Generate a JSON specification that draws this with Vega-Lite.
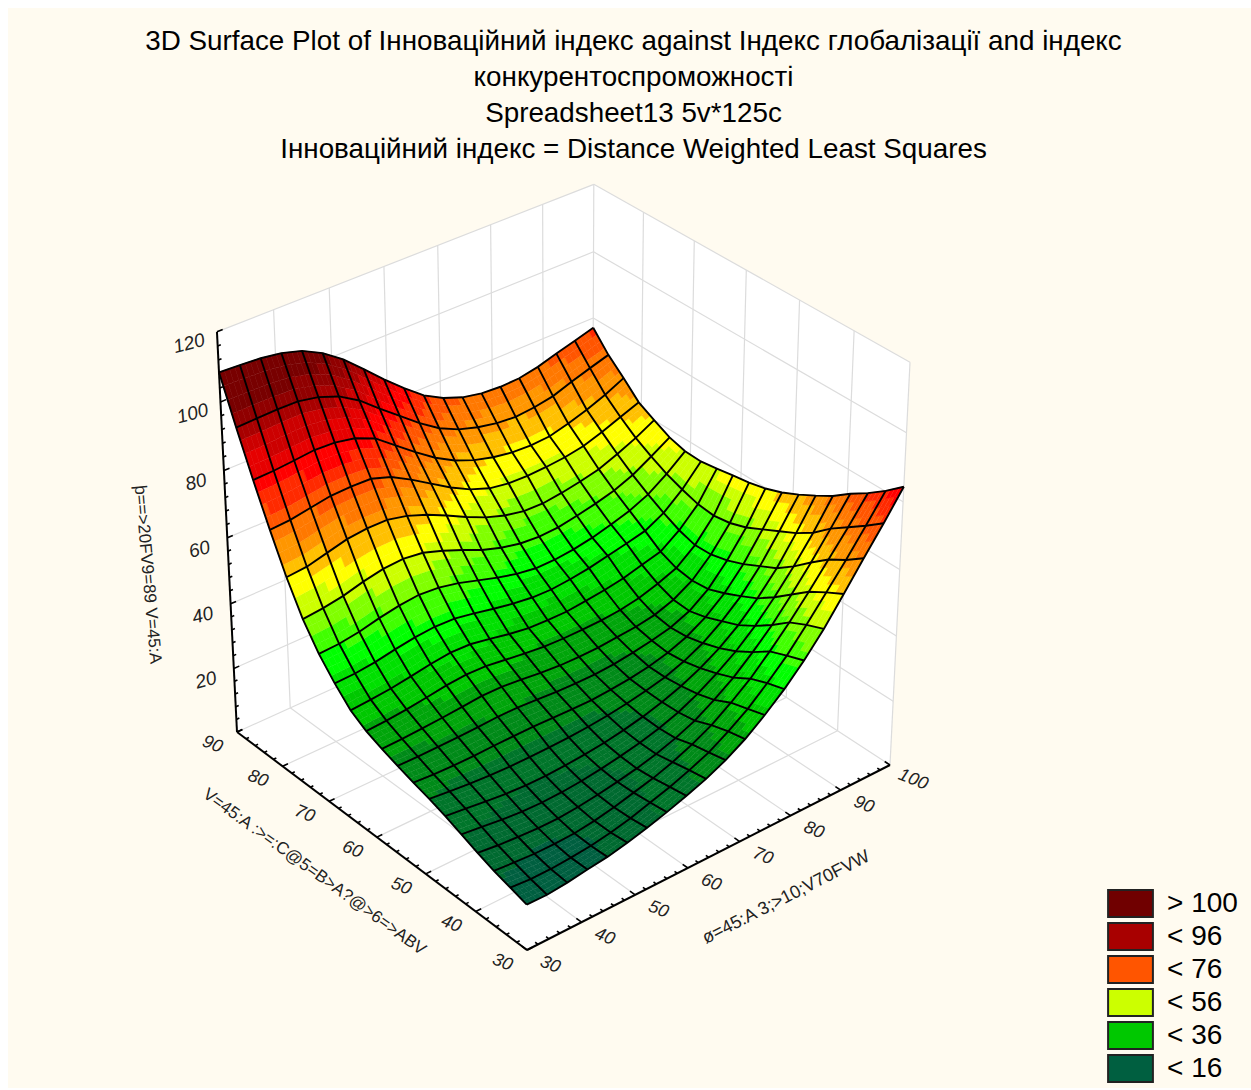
{"$schema":"https://vega.github.io/schema/vega-lite/v6.json","width":1243,"height":1080,"autosize":"none","padding":{"left":8,"top":8,"right":0,"bottom":2},"background":"white","view":{"fill":"#FFFBF0","stroke":null},
"title":{"text":["3D Surface Plot of Інноваційний індекс against Індекс глобалізації and індекс","конкурентоспроможності","Spreadsheet13 5v*125c","Інноваційний індекс = Distance Weighted Least Squares"],"font":"Liberation Sans","fontSize":27.8,"fontWeight":"normal","color":"black","lineHeight":36,"anchor":"middle","frame":"group","baseline":"top","offset":-156,"dx":4},
"datasets":{
"nodes":[
{"i":0,"j":0,"z":13.8},{"i":1,"j":0,"z":13.7},{"i":2,"j":0,"z":14.3},{"i":3,"j":0,"z":15.2},{"i":4,"j":0,"z":16},{"i":5,"j":0,"z":17.3},{"i":6,"j":0,"z":18.8},{"i":7,"j":0,"z":20.6},{"i":8,"j":0,"z":22.6},{"i":9,"j":0,"z":24.8},{"i":10,"j":0,"z":27.6},{"i":11,"j":0,"z":31.1},{"i":12,"j":0,"z":35.5},{"i":13,"j":0,"z":40.5},{"i":14,"j":0,"z":46.3},{"i":15,"j":0,"z":53},{"i":16,"j":0,"z":60.7},{"i":17,"j":0,"z":68.6},{"i":18,"j":0,"z":76.3},{"i":19,"j":0,"z":84.4},
{"i":0,"j":1,"z":15.3},{"i":1,"j":1,"z":14.8},{"i":2,"j":1,"z":14.8},{"i":3,"j":1,"z":15.2},{"i":4,"j":1,"z":15.8},{"i":5,"j":1,"z":16.8},{"i":6,"j":1,"z":18.2},{"i":7,"j":1,"z":20},{"i":8,"j":1,"z":21.8},{"i":9,"j":1,"z":24},{"i":10,"j":1,"z":26.5},{"i":11,"j":1,"z":30},{"i":12,"j":1,"z":34},{"i":13,"j":1,"z":39},{"i":14,"j":1,"z":44.5},{"i":15,"j":1,"z":51},{"i":16,"j":1,"z":58},{"i":17,"j":1,"z":65},{"i":18,"j":1,"z":72.5},{"i":19,"j":1,"z":80.2},
{"i":0,"j":2,"z":16.7},{"i":1,"j":2,"z":16.2},{"i":2,"j":2,"z":15.8},{"i":3,"j":2,"z":15.8},{"i":4,"j":2,"z":16},{"i":5,"j":2,"z":16.8},{"i":6,"j":2,"z":18},{"i":7,"j":2,"z":19.5},{"i":8,"j":2,"z":21},{"i":9,"j":2,"z":23},{"i":10,"j":2,"z":25.5},{"i":11,"j":2,"z":28.5},{"i":12,"j":2,"z":32.5},{"i":13,"j":2,"z":37},{"i":14,"j":2,"z":42.5},{"i":15,"j":2,"z":48.5},{"i":16,"j":2,"z":55},{"i":17,"j":2,"z":62},{"i":18,"j":2,"z":69},{"i":19,"j":2,"z":76.5},
{"i":0,"j":3,"z":18.5},{"i":1,"j":3,"z":17.8},{"i":2,"j":3,"z":17.3},{"i":3,"j":3,"z":17},{"i":4,"j":3,"z":17},{"i":5,"j":3,"z":17.5},{"i":6,"j":3,"z":18.3},{"i":7,"j":3,"z":19.3},{"i":8,"j":3,"z":20.5},{"i":9,"j":3,"z":22},{"i":10,"j":3,"z":24},{"i":11,"j":3,"z":26.5},{"i":12,"j":3,"z":30},{"i":13,"j":3,"z":34},{"i":14,"j":3,"z":39},{"i":15,"j":3,"z":44.5},{"i":16,"j":3,"z":51},{"i":17,"j":3,"z":58},{"i":18,"j":3,"z":65.5},{"i":19,"j":3,"z":73.3},
{"i":0,"j":4,"z":20.5},{"i":1,"j":4,"z":19.8},{"i":2,"j":4,"z":19},{"i":3,"j":4,"z":18.5},{"i":4,"j":4,"z":18.3},{"i":5,"j":4,"z":18.5},{"i":6,"j":4,"z":19},{"i":7,"j":4,"z":19.8},{"i":8,"j":4,"z":20.8},{"i":9,"j":4,"z":22},{"i":10,"j":4,"z":23.6},{"i":11,"j":4,"z":25.7},{"i":12,"j":4,"z":28.5},{"i":13,"j":4,"z":32},{"i":14,"j":4,"z":36},{"i":15,"j":4,"z":41},{"i":16,"j":4,"z":47},{"i":17,"j":4,"z":53.7},{"i":18,"j":4,"z":61.2},{"i":19,"j":4,"z":69.6},
{"i":0,"j":5,"z":22.5},{"i":1,"j":5,"z":21.8},{"i":2,"j":5,"z":21},{"i":3,"j":5,"z":20.4},{"i":4,"j":5,"z":20},{"i":5,"j":5,"z":20},{"i":6,"j":5,"z":20.3},{"i":7,"j":5,"z":20.8},{"i":8,"j":5,"z":21.5},{"i":9,"j":5,"z":22.5},{"i":10,"j":5,"z":23.8},{"i":11,"j":5,"z":25.5},{"i":12,"j":5,"z":27.6},{"i":13,"j":5,"z":30.3},{"i":14,"j":5,"z":33.7},{"i":15,"j":5,"z":38},{"i":16,"j":5,"z":43.5},{"i":17,"j":5,"z":50},{"i":18,"j":5,"z":58},{"i":19,"j":5,"z":66.7},
{"i":0,"j":6,"z":24.2},{"i":1,"j":6,"z":23.5},{"i":2,"j":6,"z":22.9},{"i":3,"j":6,"z":22.5},{"i":4,"j":6,"z":22.3},{"i":5,"j":6,"z":22.3},{"i":6,"j":6,"z":22.4},{"i":7,"j":6,"z":22.6},{"i":8,"j":6,"z":23},{"i":9,"j":6,"z":23.6},{"i":10,"j":6,"z":24.5},{"i":11,"j":6,"z":25.6},{"i":12,"j":6,"z":27},{"i":13,"j":6,"z":29.1},{"i":14,"j":6,"z":32},{"i":15,"j":6,"z":36},{"i":16,"j":6,"z":41},{"i":17,"j":6,"z":47.5},{"i":18,"j":6,"z":55.5},{"i":19,"j":6,"z":64},
{"i":0,"j":7,"z":25.6},{"i":1,"j":7,"z":25.2},{"i":2,"j":7,"z":25},{"i":3,"j":7,"z":25},{"i":4,"j":7,"z":25.2},{"i":5,"j":7,"z":25.3},{"i":6,"j":7,"z":25.3},{"i":7,"j":7,"z":25.2},{"i":8,"j":7,"z":25},{"i":9,"j":7,"z":25},{"i":10,"j":7,"z":25.4},{"i":11,"j":7,"z":26},{"i":12,"j":7,"z":27},{"i":13,"j":7,"z":28.5},{"i":14,"j":7,"z":30.7},{"i":15,"j":7,"z":34},{"i":16,"j":7,"z":38.7},{"i":17,"j":7,"z":45},{"i":18,"j":7,"z":53},{"i":19,"j":7,"z":61.6},
{"i":0,"j":8,"z":27.2},{"i":1,"j":8,"z":27.1},{"i":2,"j":8,"z":27.2},{"i":3,"j":8,"z":27.3},{"i":4,"j":8,"z":27.5},{"i":5,"j":8,"z":27.8},{"i":6,"j":8,"z":27.8},{"i":7,"j":8,"z":27.4},{"i":8,"j":8,"z":27},{"i":9,"j":8,"z":26.8},{"i":10,"j":8,"z":26.8},{"i":11,"j":8,"z":27.2},{"i":12,"j":8,"z":28},{"i":13,"j":8,"z":29},{"i":14,"j":8,"z":30.3},{"i":15,"j":8,"z":32.7},{"i":16,"j":8,"z":36.8},{"i":17,"j":8,"z":43},{"i":18,"j":8,"z":50.5},{"i":19,"j":8,"z":59.8},
{"i":0,"j":9,"z":28.9},{"i":1,"j":9,"z":29.1},{"i":2,"j":9,"z":29.4},{"i":3,"j":9,"z":29.8},{"i":4,"j":9,"z":30.3},{"i":5,"j":9,"z":30.8},{"i":6,"j":9,"z":30.8},{"i":7,"j":9,"z":30.2},{"i":8,"j":9,"z":29.5},{"i":9,"j":9,"z":29},{"i":10,"j":9,"z":28.9},{"i":11,"j":9,"z":29},{"i":12,"j":9,"z":29.5},{"i":13,"j":9,"z":30},{"i":14,"j":9,"z":31},{"i":15,"j":9,"z":33},{"i":16,"j":9,"z":36.3},{"i":17,"j":9,"z":41.7},{"i":18,"j":9,"z":48.8},{"i":19,"j":9,"z":58.6},
{"i":0,"j":10,"z":30.9},{"i":1,"j":10,"z":31.2},{"i":2,"j":10,"z":31.8},{"i":3,"j":10,"z":32.6},{"i":4,"j":10,"z":33.5},{"i":5,"j":10,"z":34},{"i":6,"j":10,"z":33.8},{"i":7,"j":10,"z":33},{"i":8,"j":10,"z":32.2},{"i":9,"j":10,"z":31.5},{"i":10,"j":10,"z":31.3},{"i":11,"j":10,"z":31.3},{"i":12,"j":10,"z":31.5},{"i":13,"j":10,"z":32},{"i":14,"j":10,"z":33},{"i":15,"j":10,"z":34.8},{"i":16,"j":10,"z":37},{"i":17,"j":10,"z":41.5},{"i":18,"j":10,"z":48},{"i":19,"j":10,"z":57.8},
{"i":0,"j":11,"z":33.8},{"i":1,"j":11,"z":34.2},{"i":2,"j":11,"z":34.8},{"i":3,"j":11,"z":35.7},{"i":4,"j":11,"z":36.7},{"i":5,"j":11,"z":37.4},{"i":6,"j":11,"z":37.2},{"i":7,"j":11,"z":36.1},{"i":8,"j":11,"z":34.9},{"i":9,"j":11,"z":34},{"i":10,"j":11,"z":33.7},{"i":11,"j":11,"z":33.7},{"i":12,"j":11,"z":34.3},{"i":13,"j":11,"z":35},{"i":14,"j":11,"z":36},{"i":15,"j":11,"z":37.5},{"i":16,"j":11,"z":39},{"i":17,"j":11,"z":43},{"i":18,"j":11,"z":48.5},{"i":19,"j":11,"z":56.9},
{"i":0,"j":12,"z":38.6},{"i":1,"j":12,"z":38.8},{"i":2,"j":12,"z":39.5},{"i":3,"j":12,"z":40.6},{"i":4,"j":12,"z":41.5},{"i":5,"j":12,"z":42},{"i":6,"j":12,"z":41.8},{"i":7,"j":12,"z":40.7},{"i":8,"j":12,"z":39.4},{"i":9,"j":12,"z":38.3},{"i":10,"j":12,"z":37.5},{"i":11,"j":12,"z":37.3},{"i":12,"j":12,"z":37.8},{"i":13,"j":12,"z":38.6},{"i":14,"j":12,"z":39.8},{"i":15,"j":12,"z":41},{"i":16,"j":12,"z":42.3},{"i":17,"j":12,"z":45.3},{"i":18,"j":12,"z":50},{"i":19,"j":12,"z":56.1},
{"i":0,"j":13,"z":44.2},{"i":1,"j":13,"z":44.5},{"i":2,"j":13,"z":45.4},{"i":3,"j":13,"z":46.8},{"i":4,"j":13,"z":47.9},{"i":5,"j":13,"z":48.5},{"i":6,"j":13,"z":48},{"i":7,"j":13,"z":46.7},{"i":8,"j":13,"z":44.9},{"i":9,"j":13,"z":43.1},{"i":10,"j":13,"z":41.6},{"i":11,"j":13,"z":40.7},{"i":12,"j":13,"z":40.7},{"i":13,"j":13,"z":41.3},{"i":14,"j":13,"z":42.3},{"i":15,"j":13,"z":43.8},{"i":16,"j":13,"z":45.5},{"i":17,"j":13,"z":48},{"i":18,"j":13,"z":51.8},{"i":19,"j":13,"z":56.3},
{"i":0,"j":14,"z":51.4},{"i":1,"j":14,"z":52},{"i":2,"j":14,"z":53},{"i":3,"j":14,"z":54.6},{"i":4,"j":14,"z":55.8},{"i":5,"j":14,"z":56.2},{"i":6,"j":14,"z":55.4},{"i":7,"j":14,"z":53.4},{"i":8,"j":14,"z":51},{"i":9,"j":14,"z":48.4},{"i":10,"j":14,"z":46.5},{"i":11,"j":14,"z":45.2},{"i":12,"j":14,"z":44.7},{"i":13,"j":14,"z":45},{"i":14,"j":14,"z":46},{"i":15,"j":14,"z":47.2},{"i":16,"j":14,"z":48.7},{"i":17,"j":14,"z":51},{"i":18,"j":14,"z":54.2},{"i":19,"j":14,"z":57.6},
{"i":0,"j":15,"z":60.7},{"i":1,"j":15,"z":61.2},{"i":2,"j":15,"z":62.7},{"i":3,"j":15,"z":64.2},{"i":4,"j":15,"z":64.8},{"i":5,"j":15,"z":64.8},{"i":6,"j":15,"z":63.4},{"i":7,"j":15,"z":61.2},{"i":8,"j":15,"z":58.4},{"i":9,"j":15,"z":55.4},{"i":10,"j":15,"z":52.7},{"i":11,"j":15,"z":50.7},{"i":12,"j":15,"z":49.5},{"i":13,"j":15,"z":49.3},{"i":14,"j":15,"z":50},{"i":15,"j":15,"z":51},{"i":16,"j":15,"z":52.3},{"i":17,"j":15,"z":54.5},{"i":18,"j":15,"z":57},{"i":19,"j":15,"z":60},
{"i":0,"j":16,"z":71.6},{"i":1,"j":16,"z":72},{"i":2,"j":16,"z":73},{"i":3,"j":16,"z":74},{"i":4,"j":16,"z":74.2},{"i":5,"j":16,"z":74},{"i":6,"j":16,"z":72},{"i":7,"j":16,"z":68.7},{"i":8,"j":16,"z":65},{"i":9,"j":16,"z":61.3},{"i":10,"j":16,"z":58.2},{"i":11,"j":16,"z":56},{"i":12,"j":16,"z":55},{"i":13,"j":16,"z":54.8},{"i":14,"j":16,"z":55},{"i":15,"j":16,"z":55.5},{"i":16,"j":16,"z":56.5},{"i":17,"j":16,"z":58.3},{"i":18,"j":16,"z":60.5},{"i":19,"j":16,"z":62.6},
{"i":0,"j":17,"z":83.2},{"i":1,"j":17,"z":83.4},{"i":2,"j":17,"z":83.9},{"i":3,"j":17,"z":84.5},{"i":4,"j":17,"z":84.2},{"i":5,"j":17,"z":83},{"i":6,"j":17,"z":80.5},{"i":7,"j":17,"z":76},{"i":8,"j":17,"z":71.5},{"i":9,"j":17,"z":67.3},{"i":10,"j":17,"z":64},{"i":11,"j":17,"z":61.6},{"i":12,"j":17,"z":60},{"i":13,"j":17,"z":59},{"i":14,"j":17,"z":58.7},{"i":15,"j":17,"z":59},{"i":16,"j":17,"z":60.5},{"i":17,"j":17,"z":62.3},{"i":18,"j":17,"z":64.5},{"i":19,"j":17,"z":67.2},
{"i":0,"j":18,"z":95.5},{"i":1,"j":18,"z":95.7},{"i":2,"j":18,"z":95.9},{"i":3,"j":18,"z":95.8},{"i":4,"j":18,"z":94.6},{"i":5,"j":18,"z":92.4},{"i":6,"j":18,"z":88.8},{"i":7,"j":18,"z":84},{"i":8,"j":18,"z":79.4},{"i":9,"j":18,"z":74.8},{"i":10,"j":18,"z":70.8},{"i":11,"j":18,"z":68},{"i":12,"j":18,"z":66.2},{"i":13,"j":18,"z":65},{"i":14,"j":18,"z":64.5},{"i":15,"j":18,"z":65},{"i":16,"j":18,"z":66},{"i":17,"j":18,"z":68},{"i":18,"j":18,"z":69.8},{"i":19,"j":18,"z":71.5},
{"i":0,"j":19,"z":108.5},{"i":1,"j":19,"z":108.2},{"i":2,"j":19,"z":107.8},{"i":3,"j":19,"z":106.9},{"i":4,"j":19,"z":105.2},{"i":5,"j":19,"z":102.2},{"i":6,"j":19,"z":98},{"i":7,"j":19,"z":92.8},{"i":8,"j":19,"z":87.4},{"i":9,"j":19,"z":82.4},{"i":10,"j":19,"z":77.8},{"i":11,"j":19,"z":74.6},{"i":12,"j":19,"z":72.4},{"i":13,"j":19,"z":71.2},{"i":14,"j":19,"z":70.8},{"i":15,"j":19,"z":71},{"i":16,"j":19,"z":72.1},{"i":17,"j":19,"z":73.8},{"i":18,"j":19,"z":75.4},{"i":19,"j":19,"z":77}
],
"ticks":[
{"ax":"z","t":0},{"ax":"z","t":4},{"ax":"z","t":8},{"ax":"z","t":12},{"ax":"z","t":16},{"ax":"z","t":20},{"ax":"z","t":24},{"ax":"z","t":28},{"ax":"z","t":32},{"ax":"z","t":36},{"ax":"z","t":40},{"ax":"z","t":44},{"ax":"z","t":48},{"ax":"z","t":52},{"ax":"z","t":56},{"ax":"z","t":60},{"ax":"z","t":64},{"ax":"z","t":68},{"ax":"z","t":72},{"ax":"z","t":76},{"ax":"z","t":80},{"ax":"z","t":84},{"ax":"z","t":88},{"ax":"z","t":92},{"ax":"z","t":96},{"ax":"z","t":100},{"ax":"z","t":104},{"ax":"z","t":108},{"ax":"z","t":112},{"ax":"z","t":116},{"ax":"z","t":120},
{"ax":"u","t":30},{"ax":"u","t":32},{"ax":"u","t":34},{"ax":"u","t":36},{"ax":"u","t":38},{"ax":"u","t":40},{"ax":"u","t":42},{"ax":"u","t":44},{"ax":"u","t":46},{"ax":"u","t":48},{"ax":"u","t":50},{"ax":"u","t":52},{"ax":"u","t":54},{"ax":"u","t":56},{"ax":"u","t":58},{"ax":"u","t":60},{"ax":"u","t":62},{"ax":"u","t":64},{"ax":"u","t":66},{"ax":"u","t":68},{"ax":"u","t":70},{"ax":"u","t":72},{"ax":"u","t":74},{"ax":"u","t":76},{"ax":"u","t":78},{"ax":"u","t":80},{"ax":"u","t":82},{"ax":"u","t":84},{"ax":"u","t":86},{"ax":"u","t":88},{"ax":"u","t":90},{"ax":"u","t":92},{"ax":"u","t":94},{"ax":"u","t":96},{"ax":"u","t":98},{"ax":"u","t":100},
{"ax":"v","t":30},{"ax":"v","t":32},{"ax":"v","t":34},{"ax":"v","t":36},{"ax":"v","t":38},{"ax":"v","t":40},{"ax":"v","t":42},{"ax":"v","t":44},{"ax":"v","t":46},{"ax":"v","t":48},{"ax":"v","t":50},{"ax":"v","t":52},{"ax":"v","t":54},{"ax":"v","t":56},{"ax":"v","t":58},{"ax":"v","t":60},{"ax":"v","t":62},{"ax":"v","t":64},{"ax":"v","t":66},{"ax":"v","t":68},{"ax":"v","t":70},{"ax":"v","t":72},{"ax":"v","t":74},{"ax":"v","t":76},{"ax":"v","t":78},{"ax":"v","t":80},{"ax":"v","t":82},{"ax":"v","t":84},{"ax":"v","t":86},{"ax":"v","t":88},{"ax":"v","t":90}
]},
"encoding":{"x":{"field":"sx","type":"quantitative","scale":{"domain":[8,1251],"nice":false,"zero":false},"axis":null},"y":{"field":"sy","type":"quantitative","scale":{"domain":[1088,8],"nice":false,"zero":false},"axis":null}},
"layer":[
{"data":{"values":[
{"w":"floor","k":0,"u":30,"v":30,"z":0},{"w":"floor","k":1,"u":100,"v":30,"z":0},{"w":"floor","k":2,"u":100,"v":90,"z":0},{"w":"floor","k":3,"u":30,"v":90,"z":0},
{"w":"left","k":0,"u":30,"v":90,"z":0},{"w":"left","k":1,"u":100,"v":90,"z":0},{"w":"left","k":2,"u":100,"v":90,"z":120},{"w":"left","k":3,"u":30,"v":90,"z":120},
{"w":"right","k":0,"u":100,"v":30,"z":0},{"w":"right","k":1,"u":100,"v":90,"z":0},{"w":"right","k":2,"u":100,"v":90,"z":120},{"w":"right","k":3,"u":100,"v":30,"z":120}]},
"transform":[{"calculate":"(datum.u-30)/70","as":"a"},{"calculate":"(datum.v-30)/60","as":"b"},{"calculate":"datum.z/120","as":"c"},{"calculate":"(527+417.82*datum.a-272.6*datum.b-34.9*datum.c)/(1+0.0616*datum.a+0.0734*datum.b-0.0617*datum.c)","as":"sx"},{"calculate":"(950-137.88*datum.a-164.27*datum.b-450*datum.c)/(1+0.0616*datum.a+0.0734*datum.b-0.0617*datum.c)","as":"sy"}],
"mark":{"type":"line","filled":true,"fill":"white","stroke":null},
"encoding":{"detail":{"field":"w","type":"nominal"},"order":{"field":"k","type":"quantitative"}}},
{"data":{"values":[
{"u1":40,"v1":30,"z1":0,"u2":40,"v2":90,"z2":0},{"u1":50,"v1":30,"z1":0,"u2":50,"v2":90,"z2":0},{"u1":60,"v1":30,"z1":0,"u2":60,"v2":90,"z2":0},{"u1":70,"v1":30,"z1":0,"u2":70,"v2":90,"z2":0},{"u1":80,"v1":30,"z1":0,"u2":80,"v2":90,"z2":0},{"u1":90,"v1":30,"z1":0,"u2":90,"v2":90,"z2":0},
{"u1":30,"v1":40,"z1":0,"u2":100,"v2":40,"z2":0},{"u1":30,"v1":50,"z1":0,"u2":100,"v2":50,"z2":0},{"u1":30,"v1":60,"z1":0,"u2":100,"v2":60,"z2":0},{"u1":30,"v1":70,"z1":0,"u2":100,"v2":70,"z2":0},{"u1":30,"v1":80,"z1":0,"u2":100,"v2":80,"z2":0},
{"u1":40,"v1":90,"z1":0,"u2":40,"v2":90,"z2":120},{"u1":50,"v1":90,"z1":0,"u2":50,"v2":90,"z2":120},{"u1":60,"v1":90,"z1":0,"u2":60,"v2":90,"z2":120},{"u1":70,"v1":90,"z1":0,"u2":70,"v2":90,"z2":120},{"u1":80,"v1":90,"z1":0,"u2":80,"v2":90,"z2":120},{"u1":90,"v1":90,"z1":0,"u2":90,"v2":90,"z2":120},
{"u1":100,"v1":40,"z1":0,"u2":100,"v2":40,"z2":120},{"u1":100,"v1":50,"z1":0,"u2":100,"v2":50,"z2":120},{"u1":100,"v1":60,"z1":0,"u2":100,"v2":60,"z2":120},{"u1":100,"v1":70,"z1":0,"u2":100,"v2":70,"z2":120},{"u1":100,"v1":80,"z1":0,"u2":100,"v2":80,"z2":120},
{"u1":30,"v1":90,"z1":20,"u2":100,"v2":90,"z2":20},{"u1":30,"v1":90,"z1":40,"u2":100,"v2":90,"z2":40},{"u1":30,"v1":90,"z1":60,"u2":100,"v2":90,"z2":60},{"u1":30,"v1":90,"z1":80,"u2":100,"v2":90,"z2":80},{"u1":30,"v1":90,"z1":100,"u2":100,"v2":90,"z2":100},{"u1":30,"v1":90,"z1":120,"u2":100,"v2":90,"z2":120},
{"u1":100,"v1":30,"z1":20,"u2":100,"v2":90,"z2":20},{"u1":100,"v1":30,"z1":40,"u2":100,"v2":90,"z2":40},{"u1":100,"v1":30,"z1":60,"u2":100,"v2":90,"z2":60},{"u1":100,"v1":30,"z1":80,"u2":100,"v2":90,"z2":80},{"u1":100,"v1":30,"z1":100,"u2":100,"v2":90,"z2":100},{"u1":100,"v1":30,"z1":120,"u2":100,"v2":90,"z2":120},
{"u1":100,"v1":90,"z1":0,"u2":100,"v2":90,"z2":120},{"u1":100,"v1":30,"z1":0,"u2":100,"v2":30,"z2":120},{"u1":100,"v1":30,"z1":0,"u2":100,"v2":90,"z2":0},{"u1":30,"v1":90,"z1":0,"u2":100,"v2":90,"z2":0}]},
"transform":[{"calculate":"(datum.u1-30)/70","as":"a1"},{"calculate":"(datum.v1-30)/60","as":"b1"},{"calculate":"datum.z1/120","as":"c1"},{"calculate":"(datum.u2-30)/70","as":"a2"},{"calculate":"(datum.v2-30)/60","as":"b2"},{"calculate":"datum.z2/120","as":"c2"},
{"calculate":"(527+417.82*datum.a1-272.6*datum.b1-34.9*datum.c1)/(1+0.0616*datum.a1+0.0734*datum.b1-0.0617*datum.c1)","as":"sx"},{"calculate":"(950-137.88*datum.a1-164.27*datum.b1-450*datum.c1)/(1+0.0616*datum.a1+0.0734*datum.b1-0.0617*datum.c1)","as":"sy"},
{"calculate":"(527+417.82*datum.a2-272.6*datum.b2-34.9*datum.c2)/(1+0.0616*datum.a2+0.0734*datum.b2-0.0617*datum.c2)","as":"sx2"},{"calculate":"(950-137.88*datum.a2-164.27*datum.b2-450*datum.c2)/(1+0.0616*datum.a2+0.0734*datum.b2-0.0617*datum.c2)","as":"sy2"}],
"mark":{"type":"rule","color":"#DCDCDC","strokeWidth":1.2},
"encoding":{"x2":{"field":"sx2"},"y2":{"field":"sy2"}}},
{"data":{"name":"ticks"},
"transform":[{"calculate":"(datum.ax=='z'?datum.t%20==0:datum.t%10==0)?1:0.55","as":"len"},
{"calculate":"datum.ax=='u'?(datum.t-30)/70:0","as":"a1"},{"calculate":"datum.ax=='v'?(datum.t-30)/60:(datum.ax=='z'?1:0)","as":"b1"},{"calculate":"datum.ax=='z'?datum.t/120:0","as":"c"},
{"calculate":"datum.a1+(datum.ax=='u'?0:datum.len/70)","as":"a2"},{"calculate":"datum.b1+(datum.ax=='u'?datum.len/60:0)","as":"b2"},
{"calculate":"(527+417.82*datum.a1-272.6*datum.b1-34.9*datum.c)/(1+0.0616*datum.a1+0.0734*datum.b1-0.0617*datum.c)","as":"sx"},{"calculate":"(950-137.88*datum.a1-164.27*datum.b1-450*datum.c)/(1+0.0616*datum.a1+0.0734*datum.b1-0.0617*datum.c)","as":"sy"},
{"calculate":"(527+417.82*datum.a2-272.6*datum.b2-34.9*datum.c)/(1+0.0616*datum.a2+0.0734*datum.b2-0.0617*datum.c)","as":"sx2"},{"calculate":"(950-137.88*datum.a2-164.27*datum.b2-450*datum.c)/(1+0.0616*datum.a2+0.0734*datum.b2-0.0617*datum.c)","as":"sy2"}],
"mark":{"type":"rule","color":"black","strokeWidth":1.6},
"encoding":{"x2":{"field":"sx2"},"y2":{"field":"sy2"}}},
{"data":{"values":[{"u1":30,"v1":90,"z1":0,"u2":30,"v2":90,"z2":120},{"u1":30,"v1":30,"z1":0,"u2":100,"v2":30,"z2":0},{"u1":30,"v1":30,"z1":0,"u2":30,"v2":90,"z2":0}]},
"transform":[{"calculate":"(datum.u1-30)/70","as":"a1"},{"calculate":"(datum.v1-30)/60","as":"b1"},{"calculate":"datum.z1/120","as":"c1"},{"calculate":"(datum.u2-30)/70","as":"a2"},{"calculate":"(datum.v2-30)/60","as":"b2"},{"calculate":"datum.z2/120","as":"c2"},
{"calculate":"(527+417.82*datum.a1-272.6*datum.b1-34.9*datum.c1)/(1+0.0616*datum.a1+0.0734*datum.b1-0.0617*datum.c1)","as":"sx"},{"calculate":"(950-137.88*datum.a1-164.27*datum.b1-450*datum.c1)/(1+0.0616*datum.a1+0.0734*datum.b1-0.0617*datum.c1)","as":"sy"},
{"calculate":"(527+417.82*datum.a2-272.6*datum.b2-34.9*datum.c2)/(1+0.0616*datum.a2+0.0734*datum.b2-0.0617*datum.c2)","as":"sx2"},{"calculate":"(950-137.88*datum.a2-164.27*datum.b2-450*datum.c2)/(1+0.0616*datum.a2+0.0734*datum.b2-0.0617*datum.c2)","as":"sy2"}],
"mark":{"type":"rule","color":"black","strokeWidth":2},
"encoding":{"x2":{"field":"sx2"},"y2":{"field":"sy2"}}},
{"data":{"name":"nodes"},
"transform":[{"window":[{"op":"lead","field":"z","as":"zj"}],"groupby":["i"],"sort":[{"field":"j","order":"ascending"}]},
{"window":[{"op":"lead","field":"z","as":"zi"},{"op":"lead","field":"zj","as":"zij"}],"groupby":["j"],"sort":[{"field":"i","order":"ascending"}]},
{"filter":"datum.i<19&&datum.j<19"},
{"calculate":"[0,1,2,3]","as":"sa"},{"flatten":["sa"]},
{"calculate":"[0,1,2,3]","as":"sb"},{"flatten":["sb"]},
{"calculate":"[0,1,2,3]","as":"k"},{"flatten":["k"]},
{"calculate":"(datum.sa+(datum.k>=2?1:0))/4","as":"s"},
{"calculate":"(datum.sb+((datum.k==1||datum.k==2)?1:0))/4","as":"r"},
{"calculate":"(datum.sa+0.5)/4","as":"sc"},{"calculate":"(datum.sb+0.5)/4","as":"rc"},
{"calculate":"datum.z*(1-datum.s)*(1-datum.r)+datum.zi*datum.s*(1-datum.r)+datum.zj*(1-datum.s)*datum.r+datum.zij*datum.s*datum.r","as":"zp"},
{"calculate":"datum.z*(1-datum.sc)*(1-datum.rc)+datum.zi*datum.sc*(1-datum.rc)+datum.zj*(1-datum.sc)*datum.rc+datum.zij*datum.sc*datum.rc","as":"zt"},
{"calculate":"(datum.i+datum.s)/19","as":"a"},{"calculate":"(datum.j+datum.r)/19","as":"b"},{"calculate":"datum.zp/120","as":"c"},
{"calculate":"datum.i*10000+datum.j*100+datum.sa*10+datum.sb","as":"tid"},
{"calculate":"(527+417.82*datum.a-272.6*datum.b-34.9*datum.c)/(1+0.0616*datum.a+0.0734*datum.b-0.0617*datum.c)","as":"sx"},{"calculate":"(950-137.88*datum.a-164.27*datum.b-450*datum.c)/(1+0.0616*datum.a+0.0734*datum.b-0.0617*datum.c)","as":"sy"}],
"mark":{"type":"line","filled":true,"strokeWidth":0.6},
"encoding":{"detail":{"field":"tid","type":"nominal"},"order":{"field":"k","type":"quantitative"},
"fill":{"field":"zt","type":"quantitative","legend":null,"scale":{"type":"threshold","domain":[16,20,24,28,32,36,40,44,48,52,56,60,64,68,72,76,80,84,88,92,96,100],"range":["#005F40","#006A30","#00752A","#008A18","#00A50A","#00C800","#00E000","#00FF00","#40FF00","#80FF00","#CCFF00","#FFFF00","#FFC000","#FF9600","#FF7800","#FF5500","#FF2A00","#FF0000","#E60000","#CC0000","#A80000","#900000","#780000"]}},
"stroke":{"field":"zt","type":"quantitative","legend":null,"scale":{"type":"threshold","domain":[16,20,24,28,32,36,40,44,48,52,56,60,64,68,72,76,80,84,88,92,96,100],"range":["#005F40","#006A30","#00752A","#008A18","#00A50A","#00C800","#00E000","#00FF00","#40FF00","#80FF00","#CCFF00","#FFFF00","#FFC000","#FF9600","#FF7800","#FF5500","#FF2A00","#FF0000","#E60000","#CC0000","#A80000","#900000","#780000"]}}}},
{"data":{"name":"nodes"},
"transform":[{"calculate":"datum.i/19","as":"a"},{"calculate":"datum.j/19","as":"b"},{"calculate":"datum.z/120","as":"c"},{"calculate":"(527+417.82*datum.a-272.6*datum.b-34.9*datum.c)/(1+0.0616*datum.a+0.0734*datum.b-0.0617*datum.c)","as":"sx"},{"calculate":"(950-137.88*datum.a-164.27*datum.b-450*datum.c)/(1+0.0616*datum.a+0.0734*datum.b-0.0617*datum.c)","as":"sy"}],
"mark":{"type":"line","color":"black","strokeWidth":1.9},
"encoding":{"detail":{"field":"i","type":"nominal"},"order":{"field":"j","type":"quantitative"}}},
{"data":{"name":"nodes"},
"transform":[{"calculate":"datum.i/19","as":"a"},{"calculate":"datum.j/19","as":"b"},{"calculate":"datum.z/120","as":"c"},{"calculate":"(527+417.82*datum.a-272.6*datum.b-34.9*datum.c)/(1+0.0616*datum.a+0.0734*datum.b-0.0617*datum.c)","as":"sx"},{"calculate":"(950-137.88*datum.a-164.27*datum.b-450*datum.c)/(1+0.0616*datum.a+0.0734*datum.b-0.0617*datum.c)","as":"sy"}],
"mark":{"type":"line","color":"black","strokeWidth":1.9},
"encoding":{"detail":{"field":"j","type":"nominal"},"order":{"field":"i","type":"quantitative"}}},
{"data":{"name":"ticks"},
"transform":[{"filter":"datum.ax=='z'&&datum.t%20==0&&datum.t>0"},{"calculate":"datum.t/120","as":"c"},{"calculate":"(527-272.6-34.9*datum.c)/(1+0.0734-0.0617*datum.c)","as":"sx"},{"calculate":"(950-164.27-450*datum.c)/(1+0.0734-0.0617*datum.c)","as":"sy"}],
"mark":{"type":"text","font":"Liberation Sans","fontSize":19,"fontStyle":"italic","angle":345,"dx":-30,"dy":4,"color":"#222222"},
"encoding":{"text":{"field":"t","type":"quantitative"}}},
{"data":{"name":"ticks"},
"transform":[{"filter":"datum.ax=='u'&&datum.t%10==0"},{"calculate":"(datum.t-30)/70","as":"a"},{"calculate":"(527+417.82*datum.a)/(1+0.0616*datum.a)","as":"sx"},{"calculate":"(950-137.88*datum.a)/(1+0.0616*datum.a)","as":"sy"}],
"mark":{"type":"text","font":"Liberation Sans","fontSize":18,"fontStyle":"italic","angle":22,"dx":27,"dy":5,"color":"#222222"},
"encoding":{"text":{"field":"t","type":"quantitative"}}},
{"data":{"name":"ticks"},
"transform":[{"filter":"datum.ax=='v'&&datum.t%10==0"},{"calculate":"(datum.t-30)/60","as":"b"},{"calculate":"(527-272.6*datum.b)/(1+0.0734*datum.b)","as":"sx"},{"calculate":"(950-164.27*datum.b)/(1+0.0734*datum.b)","as":"sy"}],
"mark":{"type":"text","font":"Liberation Sans","fontSize":18,"fontStyle":"italic","angle":22,"dx":-18,"dy":21,"color":"#222222"},
"encoding":{"text":{"field":"t","type":"quantitative"}}},
{"data":{"values":[{"label":"þ==>20FV9=89 V=45:A","u":30,"v":90,"z":55}]},
"transform":[{"calculate":"(datum.u-30)/70","as":"a"},{"calculate":"(datum.v-30)/60","as":"b"},{"calculate":"datum.z/120","as":"c"},{"calculate":"(527+417.82*datum.a-272.6*datum.b-34.9*datum.c)/(1+0.0616*datum.a+0.0734*datum.b-0.0617*datum.c)","as":"sx"},{"calculate":"(950-137.88*datum.a-164.27*datum.b-450*datum.c)/(1+0.0616*datum.a+0.0734*datum.b-0.0617*datum.c)","as":"sy"}],
"mark":{"type":"text","font":"Liberation Sans","fontSize":17,"angle":85,"dx":13,"dy":82,"color":"#222222"},
"encoding":{"text":{"field":"label"}}},
{"data":{"values":[{"label":"ø=45:A 3;>10;V70FVW","u":65,"v":30,"z":0}]},
"transform":[{"calculate":"(datum.u-30)/70","as":"a"},{"calculate":"(datum.v-30)/60","as":"b"},{"calculate":"datum.z/120","as":"c"},{"calculate":"(527+417.82*datum.a-272.6*datum.b-34.9*datum.c)/(1+0.0616*datum.a+0.0734*datum.b-0.0617*datum.c)","as":"sx"},{"calculate":"(950-137.88*datum.a-164.27*datum.b-450*datum.c)/(1+0.0616*datum.a+0.0734*datum.b-0.0617*datum.c)","as":"sy"}],
"mark":{"type":"text","font":"Liberation Sans","fontSize":18,"angle":333,"dx":45,"dy":71,"color":"#222222"},
"encoding":{"text":{"field":"label"}}},
{"data":{"values":[{"label":"V=45:A :>=:C@5=B>A?@>6=>ABV","u":30,"v":60,"z":0}]},
"transform":[{"calculate":"(datum.u-30)/70","as":"a"},{"calculate":"(datum.v-30)/60","as":"b"},{"calculate":"datum.z/120","as":"c"},{"calculate":"(527+417.82*datum.a-272.6*datum.b-34.9*datum.c)/(1+0.0616*datum.a+0.0734*datum.b-0.0617*datum.c)","as":"sx"},{"calculate":"(950-137.88*datum.a-164.27*datum.b-450*datum.c)/(1+0.0616*datum.a+0.0734*datum.b-0.0617*datum.c)","as":"sy"}],
"mark":{"type":"text","font":"Liberation Sans","fontSize":17,"angle":36,"dx":-30,"dy":65,"color":"#222222"},
"encoding":{"text":{"field":"label"}}},
{"data":{"values":[{"band":"> 100"},{"band":"< 96"},{"band":"< 76"},{"band":"< 56"},{"band":"< 36"},{"band":"< 16"}]},
"mark":{"type":"point","filled":true},
"encoding":{"color":{"field":"band","type":"nominal","scale":{"domain":["> 100","< 96","< 76","< 56","< 36","< 16"],"range":["#700000","#A80000","#FF5500","#CCFF00","#00C800","#005F40"]},
"legend":{"orient":"none","legendX":1108,"legendY":881,"title":null,"padding":0,"symbolType":"M-1.66,-1H1.66V1H-1.66Z","symbolSize":729,"symbolStrokeColor":"#222222","symbolStrokeWidth":2,"symbolOpacity":1,"rowPadding":-2,"labelFontSize":28,"labelFont":"Liberation Sans","labelColor":"black","labelOffset":22,"labelLimit":200}}}}
],
"resolve":{"scale":{"color":"independent","fill":"independent","stroke":"independent"}}
}
